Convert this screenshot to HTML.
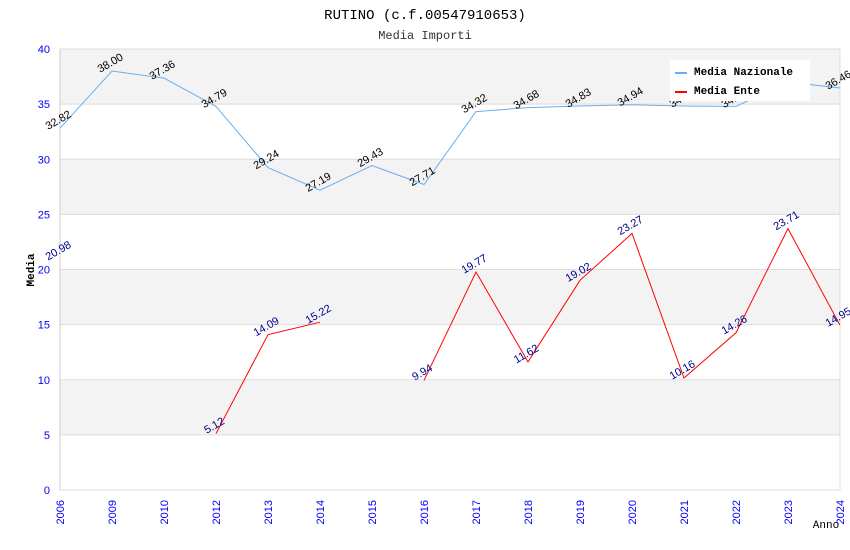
<!DOCTYPE html>
<html><head><meta charset="utf-8"><style>
body{margin:0;background:#fff}
svg{display:block;font-family:"Liberation Sans",sans-serif}
</style></head><body>
<svg id="chart" width="850" height="550">
<text x="425" y="19" text-anchor="middle" font-family="Liberation Mono,monospace" font-size="14" fill="#000">RUTINO (c.f.00547910653)</text>
<text x="425" y="39" text-anchor="middle" font-family="Liberation Mono,monospace" font-size="12" fill="#333">Media Importi</text>
<g id="grid"></g><g id="axes"></g><g id="series"></g>
<text transform="translate(34,270) rotate(-90)" text-anchor="middle" font-family="Liberation Mono,monospace" font-size="11" font-weight="bold">Media</text>
<text x="826" y="528" text-anchor="middle" font-family="Liberation Mono,monospace" font-size="11">Anno</text>
<g>
<rect x="670" y="60" width="140" height="41" fill="#fff"/>
<g><line x1="675" y1="73" x2="687" y2="73" stroke="#6aaeee" stroke-width="2"/><text x="694" y="75" font-family="Liberation Mono,monospace" font-size="11" font-weight="bold">Media Nazionale</text></g>
<g><line x1="675" y1="92" x2="687" y2="92" stroke="#f00" stroke-width="2"/><text x="694" y="94" font-family="Liberation Mono,monospace" font-size="11" font-weight="bold">Media Ente</text></g>
</g>
</svg>
<script>
const categories=["2006","2009","2010","2012","2013","2014","2015","2016","2017","2018","2019","2020","2021","2022","2023","2024"];
const years=["2006","2009","2010","2012","2013","2014","2015","2016","2017","2018","2019","2020","2021","2022","2023","2024"];
const nazionale=[32.82,38.00,37.36,34.79,29.24,27.19,29.43,27.71,34.32,34.68,34.83,34.94,34.83,34.80,37.00,36.46];
const ente=[20.98,null,null,5.12,14.09,15.22,null,9.94,19.77,11.62,19.02,23.27,10.16,14.26,23.71,14.95];
const yTicks=[0,5,10,15,20,25,30,35,40];
const NS="http://www.w3.org/2000/svg";
const L=60,R=840,T=49,B=490;
const n=categories.length;
function xs(i){return L+(R-L)*i/(n-1);}
function ys(v){return B-(B-T)*v/40;}
function mk(tag,attrs,parent){const e=document.createElementNS(NS,tag);for(const k in attrs)e.setAttribute(k,attrs[k]);parent.appendChild(e);return e;}
const grid=document.getElementById('grid'),axes=document.getElementById('axes'),ser=document.getElementById('series');
for(let k=0;k<yTicks.length-1;k++){
  const a=yTicks[k],b=yTicks[k+1];
  if(k%2===1){const r=mk('rect',{x:L,y:ys(b),width:R-L,height:ys(a)-ys(b),fill:'#f3f3f3'},grid);
  
  }
}
yTicks.forEach(v=>{
  const l=mk('line',{x1:L,x2:R,y1:ys(v),y2:ys(v),stroke:'#ddd'},grid);
  
  
  const t=mk('text',{x:L-10,y:ys(v)+4,'text-anchor':'end','font-size':'11',fill:'#00f'},axes);
  t.textContent=v;
  
  
});
mk('line',{x1:L,x2:L,y1:T,y2:B,stroke:'#ccc'},axes);
mk('line',{x1:R,x2:R,y1:T,y2:B,stroke:'#ddd'},axes);
categories.forEach((c,i)=>{
  const t=mk('text',{transform:`translate(${xs(i)+4},${B+10}) rotate(-90)`,'text-anchor':'end','font-size':'11',fill:'#00f'},axes);
  t.textContent=years[i];
  
  
});
function draw(vals,color,lblColor,name){
  let seg=[];
  const segs=[];
  vals.forEach((v,i)=>{if(v==null){if(seg.length)segs.push(seg);seg=[];}else seg.push([xs(i),ys(v)]);});
  if(seg.length)segs.push(seg);
  segs.forEach(s=>{if(s.length<2)return;
    const p=mk('polyline',{points:s.map(q=>q.join(',')).join(' '),fill:'none',stroke:color,'stroke-width':1},ser);
    
    });
  vals.forEach((v,i)=>{if(v==null)return;
    const t=mk('text',{transform:`translate(${xs(i)},${ys(v)-5}) rotate(-30)`,'text-anchor':'middle','font-size':'11',fill:lblColor},ser);
    t.textContent=v.toFixed(2);
    
    });
}
draw(nazionale,'#6aaeee','#000','nazionale');
draw(ente,'#f00','#00008b','ente');
</script>
</body></html>
